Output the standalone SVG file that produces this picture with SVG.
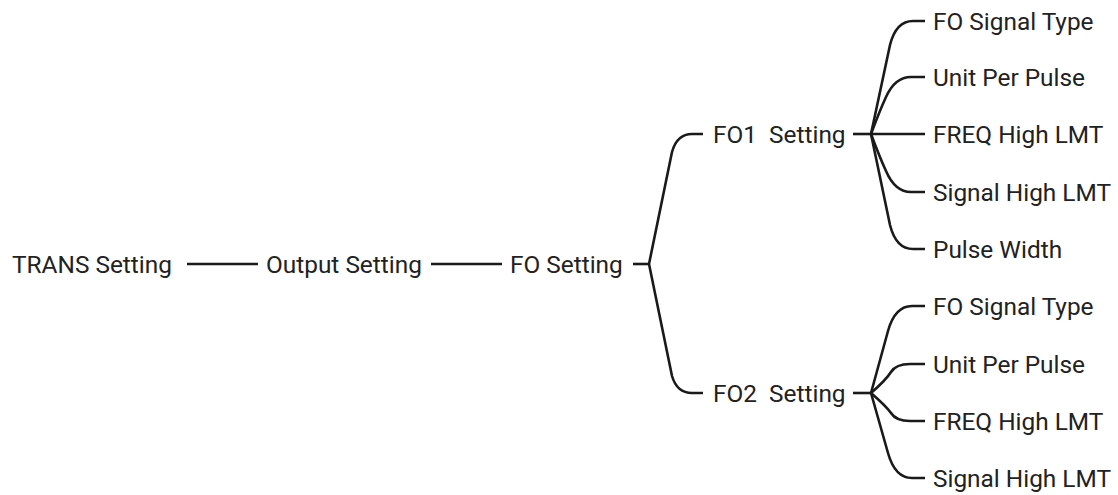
<svg xmlns="http://www.w3.org/2000/svg" width="1118" height="495" viewBox="0 0 1118 495">
  <style>
    .lbl { font-family: Roboto, "Liberation Sans", sans-serif; font-size: 24.4px; fill: #222222; }
    .edge { fill: none; stroke: #1a1a1a; stroke-width: 2.6; stroke-linecap: butt; stroke-linejoin: round; }
  </style>
  <rect width="1118" height="495" fill="#ffffff"/>

  <!-- connectors -->
  <g id="connectors">
    <path class="edge" d="M187,264 H258"/>
    <path class="edge" d="M431,264 H502"/>
    <path class="edge" d="M633,264 H649"/>
    <!-- FO Setting branches -->
    <path class="edge" d="M649,264 L672,152 Q677,134 692,134 H703"/>
    <path class="edge" d="M649,264 L672,376 Q677,393 692,393 H703"/>
    <!-- FO1 children -->
    <path class="edge" d="M853,134 H871"/>
    <path class="edge" d="M871,134 L890,45 Q896,21 913,21 H925"/>
    <path class="edge" d="M871,134 Q880,110 886,97 Q895,77 911,77 H925"/>
    <path class="edge" d="M871,134 H925"/>
    <path class="edge" d="M871,134 Q880,158 886,171 Q895,192 911,192 H925"/>
    <path class="edge" d="M871,134 L890,225 Q896,249 913,249 H925"/>
    <!-- FO2 children -->
    <path class="edge" d="M853,393 H871"/>
    <path class="edge" d="M871,393 L888,331 Q895,306 912,306 H925"/>
    <path class="edge" d="M871,393 Q886,380 891,372 Q896,364 910,364 H925"/>
    <path class="edge" d="M871,393 Q886,406 891,413 Q896,421 910,421 H925"/>
    <path class="edge" d="M871,393 L888,453 Q895,478 912,478 H925"/>
  </g>

  <g id="trans-setting"><text class="lbl" x="12" y="273">TRANS Setting</text></g>
  <g id="output-setting"><text class="lbl" x="266" y="273">Output Setting</text></g>
  <g id="fo-setting"><text class="lbl" x="510" y="273">FO Setting</text></g>

  <g id="fo1-setting"><text class="lbl" x="713" y="143" xml:space="preserve">FO1  Setting</text></g>
  <g id="fo1-signal-type"><text class="lbl" x="933" y="30">FO Signal Type</text></g>
  <g id="fo1-unit-per-pulse"><text class="lbl" x="933" y="86">Unit Per Pulse</text></g>
  <g id="fo1-freq-high"><text class="lbl" x="933" y="143">FREQ High LMT</text></g>
  <g id="fo1-signal-high"><text class="lbl" x="933" y="201">Signal High LMT</text></g>
  <g id="fo1-pulse-width"><text class="lbl" x="933" y="258">Pulse Width</text></g>

  <g id="fo2-setting"><text class="lbl" x="713" y="402" xml:space="preserve">FO2  Setting</text></g>
  <g id="fo2-signal-type"><text class="lbl" x="933" y="315">FO Signal Type</text></g>
  <g id="fo2-unit-per-pulse"><text class="lbl" x="933" y="373">Unit Per Pulse</text></g>
  <g id="fo2-freq-high"><text class="lbl" x="933" y="430">FREQ High LMT</text></g>
  <g id="fo2-signal-high"><text class="lbl" x="933" y="487">Signal High LMT</text></g>
</svg>
